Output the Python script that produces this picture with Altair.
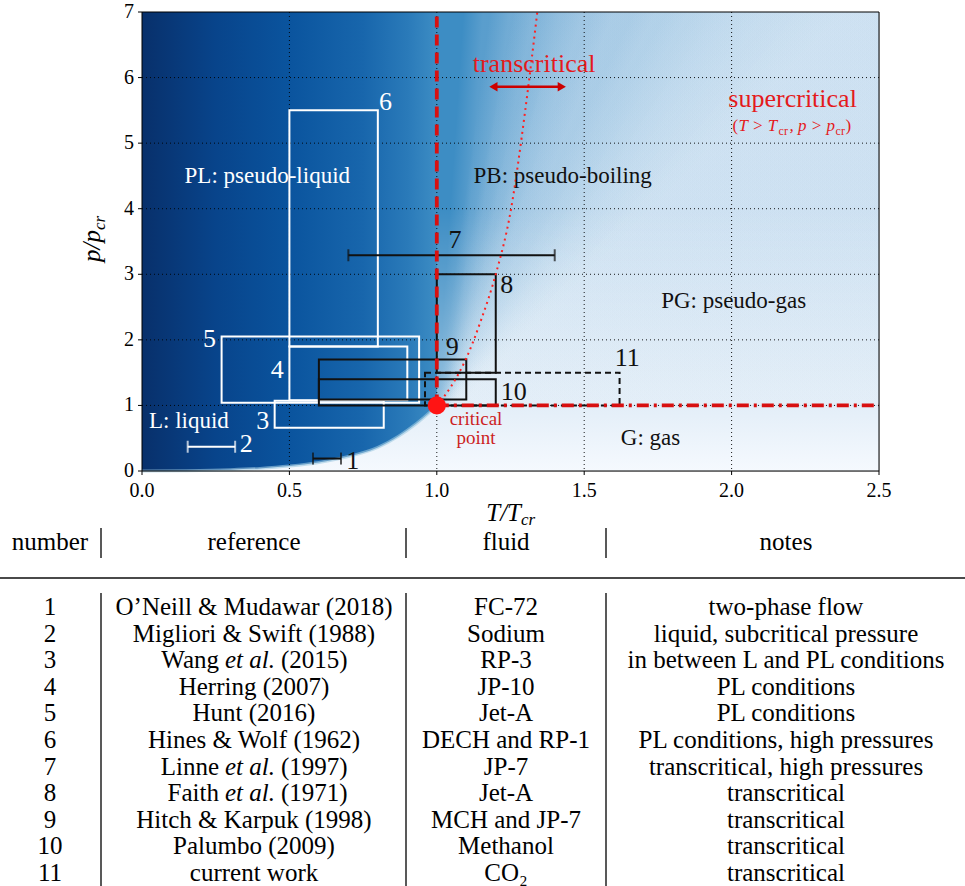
import math
import altair as alt
import pandas as pd

SERIF = "Liberation Serif"
RED = "#e41a1c"
DARK_RED = "#cc1f1f"

# ---------------- axes ----------------
x_ticks = [0.0, 0.5, 1.0, 1.5, 2.0, 2.5]
y_ticks = [0, 1, 2, 3, 4, 5, 6, 7]

# ---------------- background shading ----------------
# liquid-like shading along T/Tcr
liq_T = [0.0, 0.25, 0.5, 0.75, 0.9, 1.0]
liq_color = ["#08306b", "#08448b", "#0a549e", "#1866ac", "#2a7ab9", "#3d8dc4"]

# saturation curve (liquid / gas boundary below the critical point)
sat_T = [0.0, 0.15, 0.30, 0.40, 0.50, 0.60, 0.70, 0.80, 0.87, 0.93, 0.97, 1.0]
sat_p = [0.0, 0.005, 0.02, 0.04, 0.075, 0.13, 0.22, 0.36, 0.53, 0.72, 0.87, 1.0]

# iso-shade contours fanning out of the critical point (T/Tcr where each meets p/pcr = 7)
fan_T_top = [1.09, 1.18, 1.26, 1.355, 1.43, 1.53, 1.67, 1.78, 1.875, 1.95, 2.04, 2.15, 2.23, 2.30]
fan_alpha = 0.19
fan_ramp = 0.045

# ---------------- pseudo-boiling (Widom) line ----------------
widom_T = [1.0, 1.05, 1.10, 1.15, 1.20, 1.25, 1.30, 1.341]
widom_p = [1.0, 1.30, 1.72, 2.30, 3.00, 3.95, 5.50, 7.0]

# ---------------- experimental ranges ----------------
box_id = ["3", "4", "5", "6", "8", "9", "10", "11"]
box_T0 = [0.45, 0.50, 0.27, 0.50, 1.00, 0.60, 0.60, 0.96]
box_T1 = [0.82, 0.90, 0.94, 0.80, 1.20, 1.10, 1.20, 1.62]
box_p0 = [0.66, 1.08, 1.04, 1.90, 1.50, 1.09, 1.00, 1.00]
box_p1 = [1.07, 1.90, 2.05, 5.50, 3.00, 1.70, 1.40, 1.50]
box_col = ["white", "white", "white", "white", "#111111", "#111111", "#111111", "#111111"]
box_dashed = [0, 0, 0, 0, 0, 0, 0, 1]

bar_id = ["1", "2", "7"]
bar_T0 = [0.58, 0.155, 0.70]
bar_T1 = [0.675, 0.316, 1.40]
bar_p = [0.19, 0.37, 3.29]
bar_col = ["#111111", "white", "#111111"]

num_text = ["1", "2", "3", "4", "5", "6", "7", "8", "9", "10", "11"]
num_T = [0.715, 0.354, 0.41, 0.459, 0.229, 0.826, 1.062, 1.237, 1.052, 1.261, 1.646]
num_p = [0.15, 0.41, 0.76, 1.54, 2.01, 5.63, 3.53, 2.83, 1.89, 1.21, 1.73]
num_col = ["#111111", "white", "white", "white", "white", "white",
           "#111111", "#111111", "#111111", "#111111", "#111111"]

region_text = ["PL: pseudo-liquid", "PB: pseudo-boiling", "PG: pseudo-gas", "G: gas", "L: liquid"]
region_T = [0.425, 1.427, 2.007, 1.725, 0.159]
region_p = [4.50, 4.50, 2.60, 0.50, 0.77]
region_col = ["white", "#111111", "#111111", "#111111", "white"]

# ---------------- table ----------------
tab_num = ["1", "2", "3", "4", "5", "6", "7", "8", "9", "10", "11"]
tab_ref = ["O’Neill & Mudawar (2018)", "Migliori & Swift (1988)", "Wang et al. (2015)",
           "Herring (2007)", "Hunt (2016)", "Hines & Wolf (1962)", "Linne et al. (1997)",
           "Faith et al. (1971)", "Hitch & Karpuk (1998)", "Palumbo (2009)", "current work"]
tab_fluid = ["FC-72", "Sodium", "RP-3", "JP-10", "Jet-A", "DECH and RP-1", "JP-7",
             "Jet-A", "MCH and JP-7", "Methanol", "CO₂"]
tab_note = ["two-phase flow", "liquid, subcritical pressure", "in between L and PL conditions",
            "PL conditions", "PL conditions", "PL conditions, high pressures",
            "transcritical, high pressures", "transcritical", "transcritical",
            "transcritical", "transcritical"]
tab_head = ["number", "reference", "fluid", "notes"]

# ---------------- layout ----------------
W, H = 737, 459
PAD_L, PAD_T = 142, 12
TMAX, PMAX = x_ticks[-1], y_ticks[-1]
xs = alt.Scale(domain=[0, TMAX], nice=False, zero=False)
ys = alt.Scale(domain=[0, PMAX], nice=False, zero=False)


def px_T(px):
    """page pixel column -> T/Tcr (for items placed around the plot)"""
    return (px - PAD_L) / W * TMAX


def px_p(py):
    """page pixel row -> p/pcr"""
    return PMAX - (py - PAD_T) / H * PMAX


def X(field):
    return alt.X(field, type="quantitative", scale=xs, axis=None)


def Y(field):
    return alt.Y(field, type="quantitative", scale=ys, axis=None)


def text_layer(df, size, style="normal", align="center", baseline="middle", color=None,
               dx=0, dy=0, angle=0):
    kw = dict(font=SERIF, fontSize=size, fontStyle=style, align=align, baseline=baseline)
    if dx:
        kw["dx"] = dx
    if dy:
        kw["dy"] = dy
    if angle:
        kw["angle"] = angle
    if color is not None:
        kw["color"] = color
    return alt.Chart(df).mark_text(**kw)


layers = []

# base shading
base_grad = alt.Gradient(
    gradient="linear", x1=0, y1=0, x2=1, y2=0,
    stops=[alt.GradientStop(offset=t / TMAX, color=c) for t, c in zip(liq_T, liq_color)])
base_df = pd.DataFrame({"x0": [x_ticks[0]], "x1": [x_ticks[-1]], "y0": [y_ticks[0]], "y1": [y_ticks[-1]]})
layers.append(alt.Chart(base_df).mark_rect(color=base_grad).encode(
    x=X("x0"), x2="x1:Q", y=Y("y0"), y2="y1:Q"))

# gas region below the saturation curve and below p = pcr
gas_df = pd.DataFrame({"T": sat_T + [TMAX], "p": sat_p + [1.0], "p0": 0.0})
gas_grad = alt.Gradient(gradient="linear", x1=0, y1=0, x2=0, y2=1,
                        stops=[alt.GradientStop(offset=0, color="#e3eef8"),
                               alt.GradientStop(offset=1, color="#f5f9fe")])
layers.append(alt.Chart(gas_df).mark_area(color=gas_grad, interpolate="monotone").encode(
    x=X("T"), y=Y("p"), y2="p0:Q"))
layers.append(alt.Chart(gas_df.iloc[:len(sat_T)]).mark_line(
    color="#9ecae1", strokeWidth=3, opacity=0.6, interpolate="monotone").encode(x=X("T"), y=Y("p")))

# supercritical fan: stacked soft-edged shades from the critical point
for Tk in fan_T_top:
    u = (Tk - 1.0) / (TMAX - 1.0)
    n = math.hypot(1.0, u)
    g = alt.Gradient(
        gradient="linear", x1=0, y1=1, x2=fan_ramp / n, y2=1 + fan_ramp * u / n,
        stops=[alt.GradientStop(offset=0, color="rgba(214,230,244,0)"),
               alt.GradientStop(offset=1, color=f"rgba(214,230,244,{fan_alpha})")])
    fdf = pd.DataFrame({"p": [1.0, PMAX], "xl": [1.0, Tk], "xr": [TMAX, TMAX]})
    layers.append(alt.Chart(fdf).mark_area(orient="horizontal", color=g).encode(
        y=Y("p"), x=X("xl"), x2="xr:Q"))

# lighter gas-like shade close to p = pcr
ov_grad = alt.Gradient(gradient="linear", x1=0, y1=0, x2=0, y2=1,
                       stops=[alt.GradientStop(offset=0, color="rgba(255,255,255,0)"),
                              alt.GradientStop(offset=1, color="rgba(255,255,255,0.45)")])
layers.append(alt.Chart(pd.DataFrame({"a": [1.0], "b": [TMAX], "c": [4.0], "d": [1.0]}))
              .mark_rect(color=ov_grad).encode(x=X("a"), x2="b:Q", y=Y("c"), y2="d:Q"))

# dotted grid
layers.append(alt.Chart(pd.DataFrame({"T": x_ticks[1:-1]})).mark_rule(
    color="black", strokeDash=[1, 3], strokeWidth=1, opacity=0.9).encode(x=X("T")))
layers.append(alt.Chart(pd.DataFrame({"p": y_ticks[1:-1]})).mark_rule(
    color="black", strokeDash=[1, 3], strokeWidth=1, opacity=0.9).encode(y=Y("p")))

# boxes
box_df = pd.DataFrame({"id": box_id, "T0": box_T0, "T1": box_T1, "p0": box_p0, "p1": box_p1,
                       "c": box_col, "dash": box_dashed})
layers.append(alt.Chart(box_df[box_df.dash == 0]).mark_rect(fillOpacity=0, strokeWidth=2).encode(
    x=X("T0"), x2="T1:Q", y=Y("p0"), y2="p1:Q", stroke=alt.Stroke("c:N", scale=None)))
layers.append(alt.Chart(box_df[box_df.dash == 1]).mark_rect(
    fillOpacity=0, strokeWidth=2, strokeDash=[6, 4]).encode(
    x=X("T0"), x2="T1:Q", y=Y("p0"), y2="p1:Q", stroke=alt.Stroke("c:N", scale=None)))

# range bars with caps
bar_df = pd.DataFrame({"id": bar_id, "T0": bar_T0, "T1": bar_T1, "p": bar_p, "c": bar_col})
layers.append(alt.Chart(bar_df).mark_rule(strokeWidth=2).encode(
    x=X("T0"), x2="T1:Q", y=Y("p"), color=alt.Color("c:N", scale=None)))
cap_df = pd.DataFrame({"T": bar_T0 + bar_T1, "p": bar_p * 2, "c": bar_col * 2})
layers.append(alt.Chart(cap_df).mark_tick(orient="vertical", thickness=2, size=12).encode(
    x=X("T"), y=Y("p"), color=alt.Color("c:N", scale=None)))

# critical isotherm / isobar
layers.append(alt.Chart(pd.DataFrame({"T": [1.0], "p0": [1.0], "p1": [PMAX]})).mark_rule(
    color="#d81010", strokeWidth=3.8, strokeDash=[11, 7]).encode(x=X("T"), y=Y("p0"), y2="p1:Q"))
layers.append(alt.Chart(pd.DataFrame({"T0": [1.0], "T1": [TMAX], "p": [1.0]})).mark_rule(
    color="#d81010", strokeWidth=3.8, strokeDash=[12, 5, 3, 5]).encode(x=X("T0"), x2="T1:Q", y=Y("p")))

# Widom line
layers.append(alt.Chart(pd.DataFrame({"T": widom_T, "p": widom_p})).mark_line(
    color="#ff2020", strokeWidth=2, strokeDash=[2, 4], interpolate="monotone").encode(x=X("T"), y=Y("p")))

# transcritical arrow
arrow_T = [1.175, 1.441]
arrow_p = 5.86
layers.append(alt.Chart(pd.DataFrame({"T0": [arrow_T[0] + 0.02], "T1": [arrow_T[1] - 0.02], "p": [arrow_p]}))
              .mark_rule(color="#cc0000", strokeWidth=2.5).encode(x=X("T0"), x2="T1:Q", y=Y("p")))
layers.append(alt.Chart(pd.DataFrame({"T": [arrow_T[0] + 0.017], "p": [arrow_p]})).mark_point(
    shape="triangle-left", filled=True, size=90, color="#cc0000", opacity=1).encode(x=X("T"), y=Y("p")))
layers.append(alt.Chart(pd.DataFrame({"T": [arrow_T[1] - 0.017], "p": [arrow_p]})).mark_point(
    shape="triangle-right", filled=True, size=90, color="#cc0000", opacity=1).encode(x=X("T"), y=Y("p")))

# critical point
layers.append(alt.Chart(pd.DataFrame({"T": [1.0], "p": [1.0]})).mark_circle(
    size=330, color="#ff1414", opacity=1).encode(x=X("T"), y=Y("p")))

# region labels
reg_df = pd.DataFrame({"T": region_T, "p": region_p, "s": region_text, "c": region_col})
layers.append(text_layer(reg_df, 23).encode(x=X("T"), y=Y("p"), text="s:N",
                                            color=alt.Color("c:N", scale=None)))

# case numbers
num_df = pd.DataFrame({"T": num_T, "p": num_p, "s": num_text, "c": num_col})
layers.append(text_layer(num_df, 26).encode(x=X("T"), y=Y("p"), text="s:N",
                                            color=alt.Color("c:N", scale=None)))

# red annotations
ann_df = pd.DataFrame({"T": [1.33, 2.207], "p": [6.2, 5.68], "s": ["transcritical", "supercritical"]})
layers.append(text_layer(ann_df, 26, color=RED).encode(x=X("T"), y=Y("p"), text="s:N"))
cp_df = pd.DataFrame({"T": [1.133, 1.133], "p": [0.80, 0.50], "s": ["critical", "point"]})
layers.append(text_layer(cp_df, 19, color=DARK_RED).encode(x=X("T"), y=Y("p"), text="s:N"))

# (T > Tcr, p > pcr)
cond_T, cond_p = 2.207, 5.19
pieces = [("(", 17, "normal", 0, -60), ("T > T", 17, "italic", 0, -54), ("cr", 12, "normal", 4, -14),
          (", p > p", 17, "italic", 0, -3), ("cr", 12, "normal", 4, 43), (")", 17, "normal", 0, 53)]
for s, size, style, dy, dx in pieces:
    layers.append(text_layer(pd.DataFrame({"T": [cond_T], "p": [cond_p], "s": [s]}), size, style=style,
                             align="left", baseline="alphabetic", color=RED, dx=dx, dy=dy)
                  .encode(x=X("T"), y=Y("p"), text="s:N"))


# text placed around the plot frame
def placed(s, px, py, size, style="normal", align="left", angle=0, color="black"):
    df = pd.DataFrame({"T": [px_T(px)], "p": [px_p(py)], "s": [s]})
    return text_layer(df, size, style=style, align=align, baseline="alphabetic",
                      color=color, angle=angle).encode(x=X("T"), y=Y("p"), text="s:N")


# axis ticks and tick labels
xlab_df = pd.DataFrame({"T": x_ticks, "s": [f"{v:.1f}" for v in x_ticks], "p": px_p(491)})
layers.append(text_layer(xlab_df, 20, color="black").encode(x=X("T"), y=Y("p"), text="s:N"))
ylab_df = pd.DataFrame({"p": y_ticks, "s": [str(v) for v in y_ticks], "T": px_T(134)})
layers.append(text_layer(ylab_df, 20, align="right", color="black").encode(x=X("T"), y=Y("p"), text="s:N"))
layers.append(alt.Chart(pd.DataFrame({"T": x_ticks, "a": float(y_ticks[0]), "b": px_p(PAD_T + H + 4)}))
              .mark_rule(color="black", strokeWidth=1).encode(x=X("T"), y=Y("a"), y2="b:Q"))
layers.append(alt.Chart(pd.DataFrame({"p": y_ticks, "a": float(x_ticks[0]), "b": px_T(PAD_L - 4)}))
              .mark_rule(color="black", strokeWidth=1).encode(y=Y("p"), x=X("a"), x2="b:Q"))

# axis titles
layers.append(placed("T/T", 521, 521, 25, "italic", align="right"))
layers.append(placed("cr", 521, 525, 17, "italic"))
layers.append(placed("p/p", 100, 262, 25, "italic", angle=270))
layers.append(placed("cr", 105, 230, 17, "italic", angle=270))

# frame
layers.append(alt.Chart(base_df).mark_rect(fillOpacity=0, stroke="black", strokeWidth=1).encode(
    x=X("x0"), x2="x1:Q", y=Y("y0"), y2="y1:Q"))

# ---------------- table ----------------
col_x = [50, 254, 506, 786]
sep_x = [101, 406, 606]
head_y = 542
row_y0, row_dy = 607, 26.6
TS = 25

head_df = pd.DataFrame({"s": tab_head, "T": [px_T(c) for c in col_x], "p": px_p(head_y)})
layers.append(text_layer(head_df, TS, color="black").encode(x=X("T"), y=Y("p"), text="s:N"))
layers.append(alt.Chart(pd.DataFrame({"T": [px_T(s) for s in sep_x], "a": px_p(528), "b": px_p(558)}))
              .mark_rule(color="#222222", strokeWidth=1.5).encode(x=X("T"), y=Y("a"), y2="b:Q"))
layers.append(alt.Chart(pd.DataFrame({"a": [px_T(0)], "b": [px_T(965)], "p": [px_p(578)]}))
              .mark_rule(color="#4a4a4a", strokeWidth=2).encode(x=X("a"), x2="b:Q", y=Y("p")))
layers.append(alt.Chart(pd.DataFrame({"T": [px_T(s) for s in sep_x], "a": px_p(593), "b": px_p(886)}))
              .mark_rule(color="#222222", strokeWidth=1.5).encode(x=X("T"), y=Y("a"), y2="b:Q"))

cells = []
for i in range(len(tab_num)):
    py = row_y0 + row_dy * i
    cells.append((tab_num[i], col_x[0], py, "center", "normal"))
    cells.append((tab_fluid[i], col_x[2], py, "center", "normal"))
    cells.append((tab_note[i], col_x[3], py, "center", "normal"))
    ref = tab_ref[i]
    if " et al. " in ref:
        pre, post = ref.split(" et al. ")
        cells.append((pre, 219, py, "right", "normal"))
        cells.append(("et al.", 250, py, "center", "italic"))
        cells.append((post, 281, py, "left", "normal"))
    else:
        cells.append((ref, col_x[1], py, "center", "normal"))
cell_df = pd.DataFrame(cells, columns=["s", "px", "py", "al", "st"])
cell_df["T"] = [px_T(v) for v in cell_df["px"]]
cell_df["p"] = [px_p(v) for v in cell_df["py"]]
for al in ["center", "right", "left"]:
    for st in ["normal", "italic"]:
        sub = cell_df[(cell_df.al == al) & (cell_df.st == st)]
        if len(sub) == 0:
            continue
        layers.append(text_layer(sub[["s", "T", "p"]], TS, style=st, align=al, color="black")
                      .encode(x=X("T"), y=Y("p"), text="s:N"))

chart = alt.layer(*layers).properties(
    width=W, height=H,
    padding={"left": PAD_L, "top": PAD_T, "right": 965 - PAD_L - W, "bottom": 886 - PAD_T - H},
    autosize=alt.AutoSizeParams(type="none"),
).configure_view(stroke=None).configure(background="white")

chart.save("out.html", embed_options={"renderer": "svg", "actions": False})
